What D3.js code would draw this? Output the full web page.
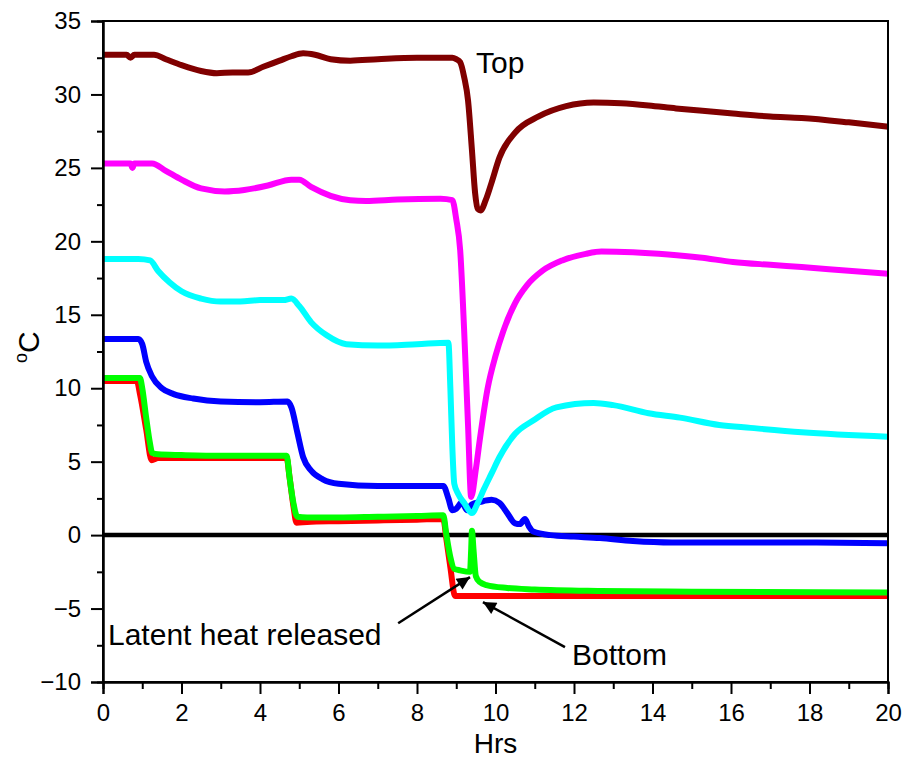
<!DOCTYPE html>
<html>
<head>
<meta charset="utf-8">
<script src="https://cdn.jsdelivr.net/npm/d3@7"></script>
<style>
  html, body { margin: 0; padding: 0; background: #fff; }
  svg { display: block; font-family: "Liberation Sans", Arial, sans-serif; }
</style>
</head>
<body>
<svg id="chart" width="904" height="758"></svg>
<script>
// Temperature logs (°C) at six heights in the tank, hours from start
const xTicks = [0, 2, 4, 6, 8, 10, 12, 14, 16, 18, 20];
const yTicks = [-10, -5, 0, 5, 10, 15, 20, 25, 30, 35];

const topHrs = [0, 0.6, 0.7, 0.8, 1.3, 1.6, 2.0, 2.5, 2.9, 3.3, 3.7, 4.1, 4.5, 4.8, 5.1, 5.4, 5.8, 6.3, 7.0, 8.0, 8.9, 9.0, 9.1, 9.2, 9.3, 9.4, 9.48, 9.55, 9.62, 9.75, 9.9, 10.1, 10.5, 11.1, 11.8, 12.5, 13.2, 13.9, 14.6, 15.2, 16.05, 17.0, 17.8, 19.0, 20];
const topVals = [32.7, 32.7, 32.5, 32.7, 32.7, 32.4, 32.0, 31.6, 31.45, 31.5, 31.5, 31.9, 32.3, 32.6, 32.8, 32.7, 32.4, 32.3, 32.4, 32.5, 32.5, 32.4, 32.2, 31.2, 29.6, 26.2, 23.3, 22.2, 22.1, 22.8, 24.0, 25.7, 27.4, 28.5, 29.2, 29.45, 29.4, 29.25, 29.05, 28.9, 28.7, 28.5, 28.4, 28.1, 27.8];

const magHrs = [0, 0.7, 0.75, 0.8, 1.25, 1.6, 2.0, 2.5, 3.1, 3.6, 4.2, 4.8, 5.0, 5.3, 5.8, 6.3, 6.7, 7.5, 8.6, 8.9, 9.0, 9.1, 9.2, 9.3, 9.38, 9.5, 9.6, 9.8, 10.0, 10.2, 10.5, 10.8, 11.2, 11.7, 12.3, 12.7, 13.5, 14.4, 15.2, 16.05, 17.0, 17.8, 19.0, 20];
const magVals = [25.3, 25.3, 25.0, 25.3, 25.3, 24.8, 24.2, 23.6, 23.4, 23.5, 23.8, 24.2, 24.2, 23.7, 23.1, 22.8, 22.75, 22.85, 22.9, 22.8, 21.5, 19.4, 14.0, 7.5, 2.6, 4.5, 6.5, 10.0, 12.2, 13.9, 15.8, 17.0, 18.0, 18.7, 19.15, 19.3, 19.25, 19.1, 18.9, 18.6, 18.4, 18.25, 18.0, 17.8];

const cyanHrs = [0, 0.9, 1.2, 1.4, 1.7, 2.0, 2.5, 3.0, 3.5, 4.0, 4.6, 4.8, 5.0, 5.3, 5.7, 6.2, 7.0, 8.0, 8.8, 8.85, 8.9, 8.95, 9.05, 9.2, 9.4, 9.55, 9.7, 9.9, 10.1, 10.5, 10.96, 11.55, 12.5, 13.0, 13.9, 14.7, 15.7, 16.5, 17.8, 20];
const cyanVals = [18.8, 18.8, 18.7, 18.0, 17.2, 16.6, 16.1, 15.9, 15.9, 16.0, 16.0, 16.1, 15.6, 14.5, 13.6, 13.0, 12.9, 13.0, 13.1, 10.0, 6.0, 3.5, 2.8, 2.2, 1.5, 2.2, 3.1, 4.2, 5.3, 6.9, 7.8, 8.7, 9.0, 8.85, 8.3, 8.0, 7.5, 7.3, 7.0, 6.7];

const blueHrs = [0, 0.9, 1.0, 1.1, 1.25, 1.5, 1.8, 2.3, 3.0, 4.0, 4.7, 4.8, 4.95, 5.1, 5.3, 5.6, 6.0, 7.0, 8.0, 8.67, 8.8, 8.9, 9.0, 9.15, 9.27, 9.4, 9.6, 9.9, 10.1, 10.3, 10.5, 10.62, 10.75, 10.85, 10.96, 11.4, 12.0, 12.66, 13.5, 14.5, 16, 18, 20];
const blueVals = [13.35, 13.35, 13.0, 11.8, 10.8, 10.0, 9.6, 9.3, 9.1, 9.05, 9.1, 8.7, 7.0, 5.3, 4.4, 3.8, 3.5, 3.35, 3.35, 3.35, 2.5, 1.7, 1.8, 2.25, 1.7, 2.1, 2.25, 2.4, 2.2, 1.5, 0.8, 0.75, 1.1, 0.6, 0.25, 0.0, -0.1, -0.2, -0.4, -0.5, -0.5, -0.5, -0.55];

const redHrs = [0, 0.86, 0.95, 1.1, 1.24, 1.4, 2, 3, 4, 4.68, 4.75, 4.85, 4.93, 5.2, 6, 7, 8, 8.67, 8.75, 8.85, 8.97, 9.5, 12, 16, 20];
const redVals = [10.5, 10.5, 9.5, 7.2, 5.1, 5.25, 5.25, 5.25, 5.25, 5.25, 4.0, 2.0, 0.85, 0.9, 0.95, 1.0, 1.05, 1.1, -0.3, -2.2, -4.15, -4.15, -4.15, -4.15, -4.15];

const greenHrs = [0, 0.94, 1.0, 1.1, 1.2, 1.25, 1.4, 2.0, 3.0, 4.0, 4.68, 4.75, 4.85, 4.95, 5.2, 6.0, 7.0, 8.0, 8.67, 8.75, 8.85, 8.95, 9.1, 9.35, 9.38, 9.4, 9.44, 9.5, 9.6, 9.77, 10.3, 11, 12.66, 15, 20];
const greenVals = [10.7, 10.7, 10.0, 8.0, 6.2, 5.6, 5.5, 5.45, 5.4, 5.4, 5.4, 4.0, 2.2, 1.25, 1.2, 1.2, 1.25, 1.3, 1.35, 0.0, -1.5, -2.3, -2.4, -2.5, -1.0, 0.3, -1.0, -2.8, -3.2, -3.4, -3.6, -3.7, -3.8, -3.85, -3.9];

const series = [
  { name: "top",    color: "#800000", hrs: topHrs,   vals: topVals },
  { name: "upper",  color: "#ff00ff", hrs: magHrs,   vals: magVals },
  { name: "mid2",   color: "#0000ff", hrs: blueHrs,  vals: blueVals },
  { name: "mid1",   color: "#00ffff", hrs: cyanHrs,  vals: cyanVals },
  { name: "bottom", color: "#ff0000", hrs: redHrs,   vals: redVals },
  { name: "lower",  color: "#00ff00", hrs: greenHrs, vals: greenVals }
];

const svg = d3.select("#chart");
const m = { left: 103, top: 21, right: 16, bottom: 76 };
const W = 904 - m.left - m.right;
const H = 758 - m.top - m.bottom;

const x = d3.scaleLinear().domain([0, 20]).range([0, W]);
const y = d3.scaleLinear().domain([-10, 35]).range([H, 0]);

const g = svg.append("g").attr("transform", `translate(${m.left},${m.top})`);

// zero reference line
g.append("line")
  .attr("x1", x(0)).attr("x2", x(20))
  .attr("y1", y(0)).attr("y2", y(0))
  .attr("stroke", "#000").attr("stroke-width", 4.5);

const line = d3.line()
  .x(d => x(d[0]))
  .y(d => y(d[1]))
  .curve(d3.curveMonotoneX);

series.forEach(s => {
  g.append("path")
    .datum(s.hrs.map((h, i) => [h, s.vals[i]]))
    .attr("fill", "none")
    .attr("stroke", s.color)
    .attr("stroke-width", 6)
    .attr("stroke-linejoin", "round")
    .attr("stroke-linecap", "butt")
    .attr("d", line);
});

// frame
g.append("rect")
  .attr("x", 0).attr("y", 0).attr("width", W).attr("height", H)
  .attr("fill", "none").attr("stroke", "#000").attr("stroke-width", 2);

// axes
const xAxis = d3.axisBottom(x).tickValues(xTicks).tickSize(12).tickPadding(10).tickFormat(d3.format("d"));
const xMinor = d3.axisBottom(x).tickValues(d3.range(1, 20, 2)).tickSize(7).tickFormat("");
const yAxis = d3.axisLeft(y).tickValues(yTicks).tickSize(12).tickPadding(10).tickFormat(d3.format("d"));
const yMinor = d3.axisLeft(y).tickValues(d3.range(-7.5, 35, 5)).tickSize(6).tickFormat("");

function styleAxis(sel) {
  sel.select(".domain").attr("stroke-width", 2);
  sel.selectAll(".tick line").attr("stroke-width", 2);
  sel.selectAll("text").attr("font-size", 24).attr("font-family", "Liberation Sans, Arial, sans-serif").attr("fill", "#000");
}

g.append("g").attr("transform", `translate(0,${H})`).call(xAxis).call(styleAxis);
g.append("g").attr("transform", `translate(0,${H})`).call(xMinor).call(styleAxis);
g.append("g").call(yAxis).call(styleAxis);
g.append("g").call(yMinor).call(styleAxis);

// axis titles
svg.append("text")
  .attr("x", m.left + W / 2).attr("y", 753)
  .attr("text-anchor", "middle").attr("font-size", 28)
  .text("Hrs");

const yt = svg.append("text")
  .attr("transform", `translate(39,${m.top + y(12.8)}) rotate(-90)`)
  .attr("text-anchor", "middle").attr("font-size", 30);
yt.append("tspan").attr("font-size", 18).attr("dy", -12).text("o");
yt.append("tspan").attr("dy", 12).text("C");

// annotations
const ann = svg.append("g").attr("font-size", 30);
ann.append("text").attr("x", 476).attr("y", 73).text("Top");
ann.append("text").attr("x", 108).attr("y", 645).text("Latent heat released");
ann.append("text").attr("x", 572).attr("y", 665).text("Bottom");

svg.append("defs").append("marker")
  .attr("id", "head")
  .attr("viewBox", "0 0 10 10")
  .attr("refX", 10).attr("refY", 5)
  .attr("markerWidth", 18).attr("markerHeight", 13)
  .attr("markerUnits", "userSpaceOnUse")
  .attr("orient", "auto")
  .append("path").attr("d", "M0,0 L10,5 L0,10 Z").attr("fill", "#000");

// arrows pointing at the freezing plateau and the bottom sensor
const arrows = [
  { from: [7.52, -6.0], to: [9.35, -2.86] },
  { from: [11.77, -7.62], to: [9.68, -4.56] }
];
arrows.forEach(a => {
  g.append("line")
    .attr("x1", x(a.from[0])).attr("y1", y(a.from[1]))
    .attr("x2", x(a.to[0])).attr("y2", y(a.to[1]))
    .attr("stroke", "#000").attr("stroke-width", 2.5)
    .attr("marker-end", "url(#head)");
});
</script>
</body>
</html>
